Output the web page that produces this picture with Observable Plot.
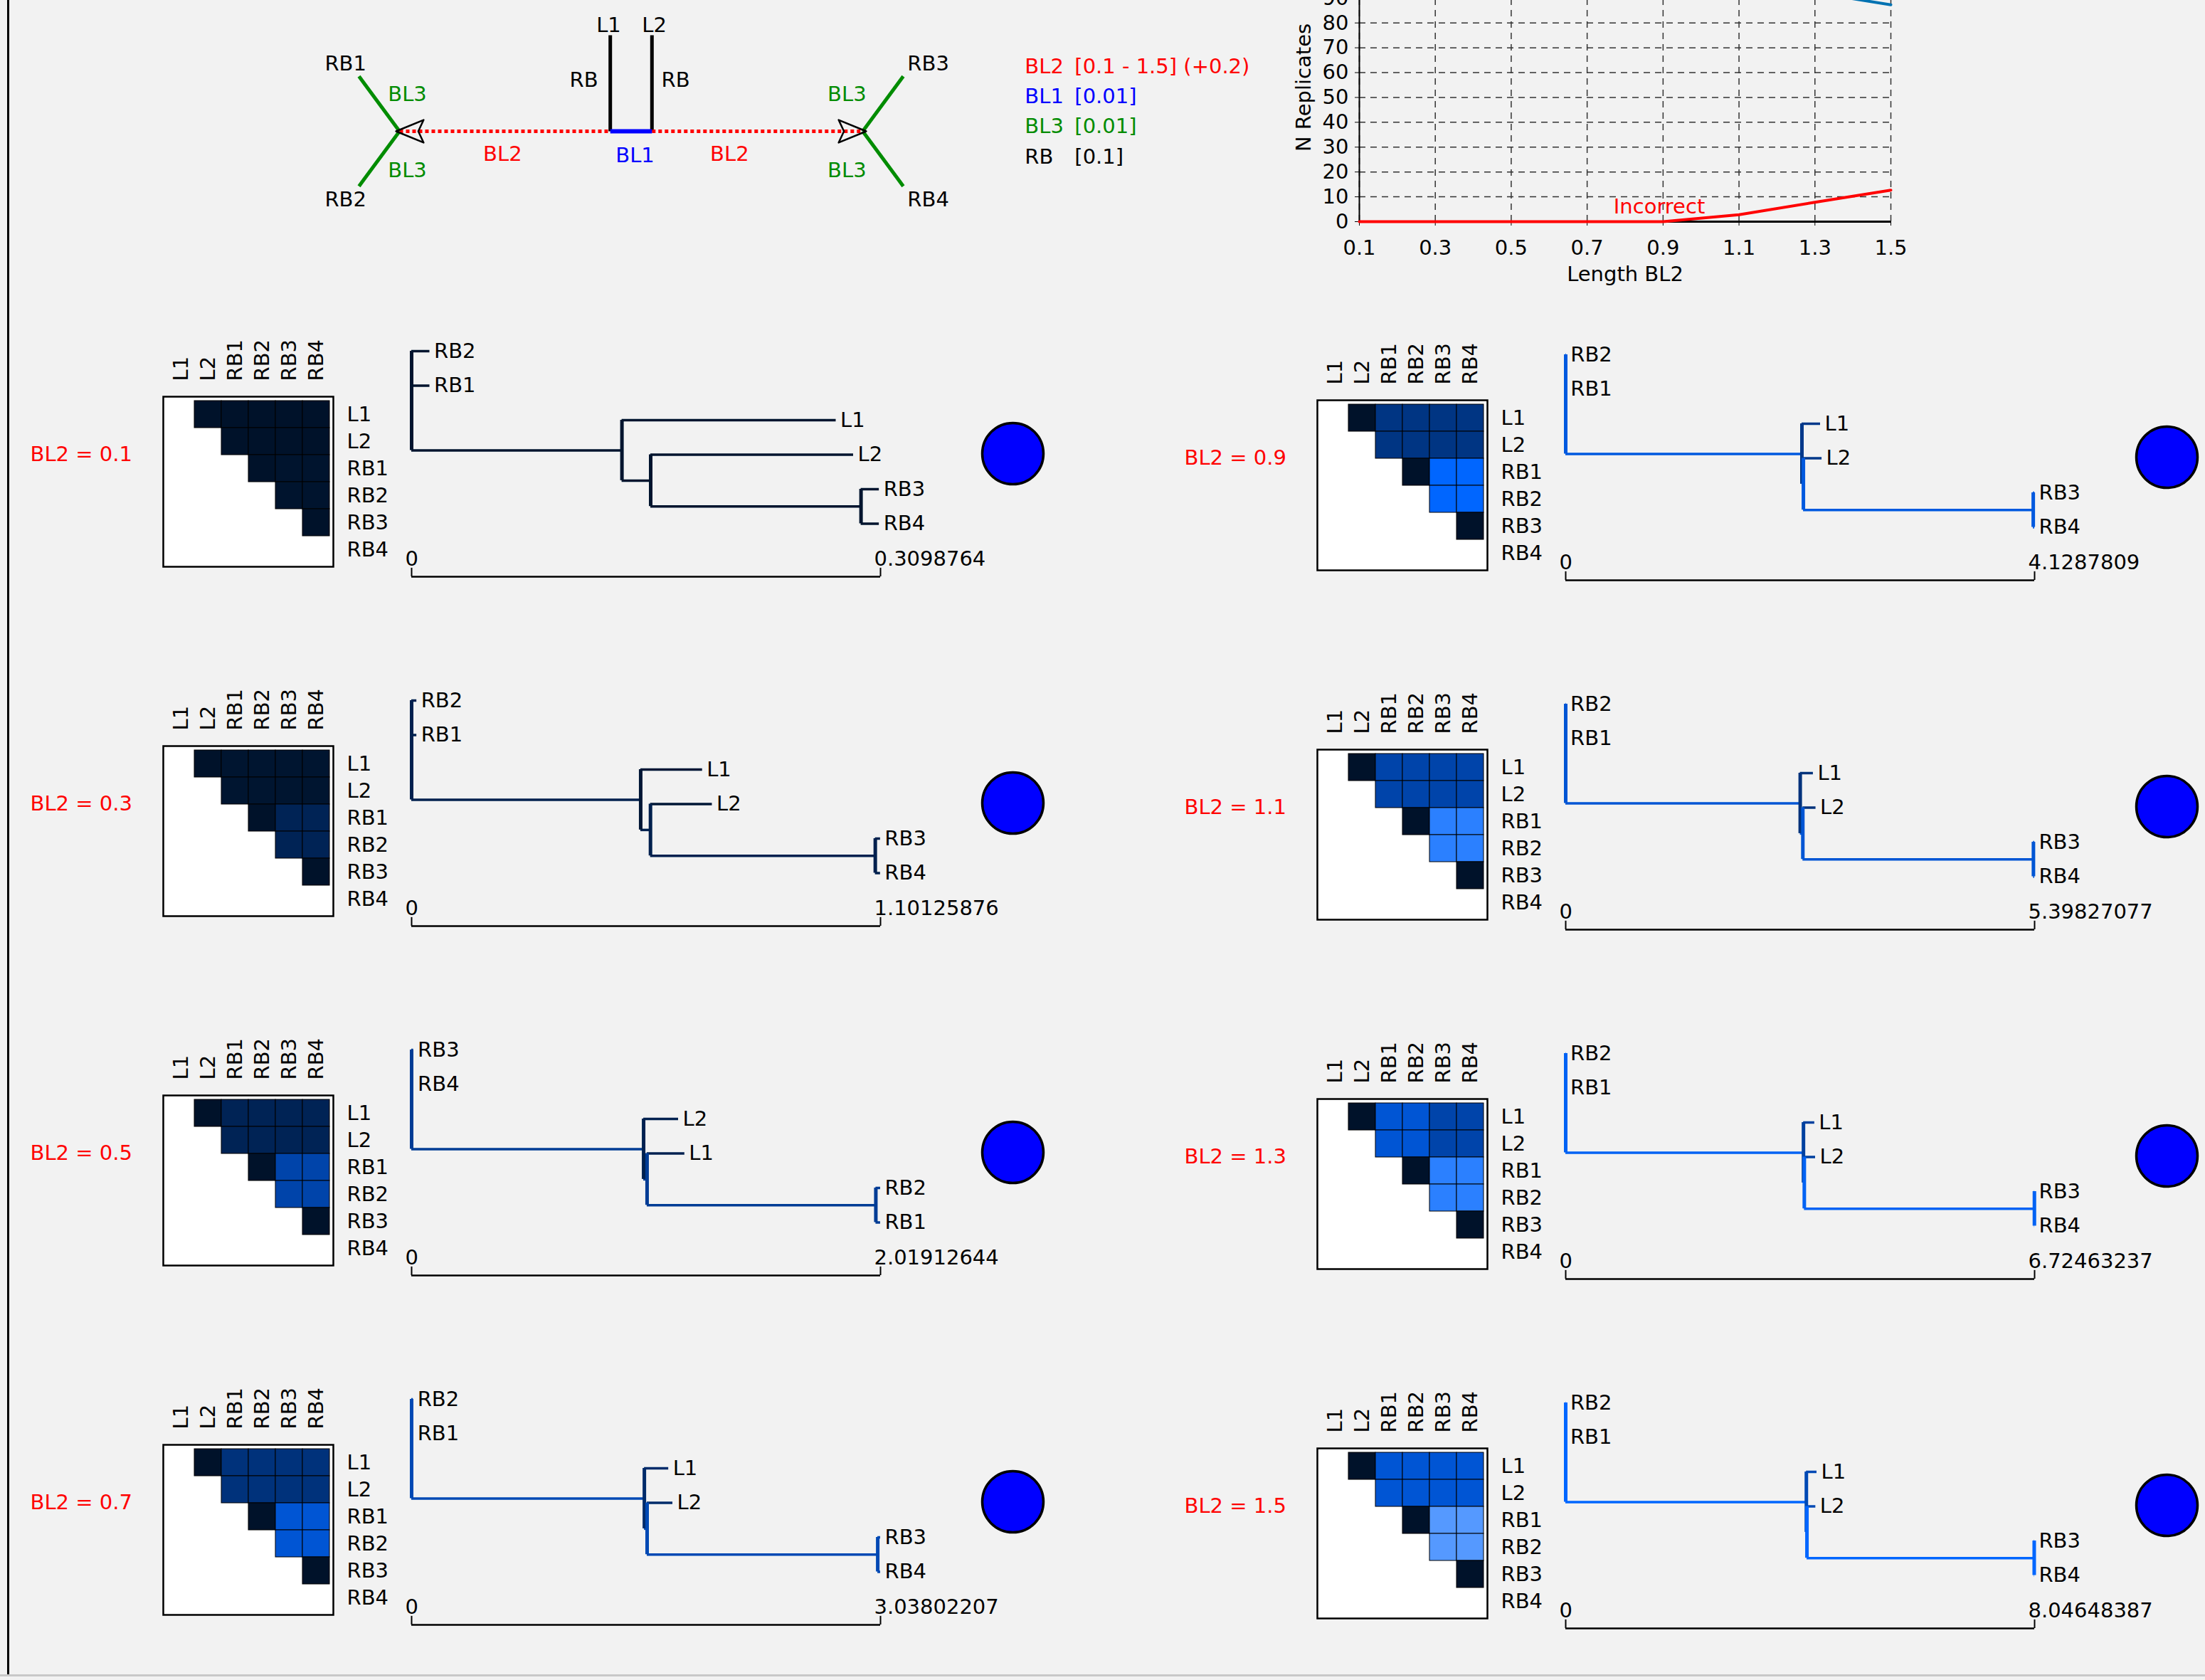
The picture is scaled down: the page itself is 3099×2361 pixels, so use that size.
<!DOCTYPE html>
<html><head><meta charset="utf-8">
<script src="https://cdn.jsdelivr.net/npm/d3@7"></script>
<script src="https://cdn.jsdelivr.net/npm/@observablehq/plot@0.6"></script>
<style>
html,body{margin:0;padding:0;background:#f2f2f2;}
#fig{position:relative;width:3099px;height:2361px;overflow:hidden;background:#f2f2f2;font-family:"DejaVu Sans";}
#fig svg{position:absolute;}
#leftBorder{position:absolute;left:10px;top:0;width:3px;height:2354px;background:#000;}
#bottomBorder{position:absolute;left:0;top:2353px;width:3099px;height:3px;background:#c8c8c8;}
</style></head>
<body><div id="fig"><div id="leftBorder"></div><div id="bottomBorder"></div></div>
<script>
// ---------- line chart data ----------
const bl2Lengths = [0.1, 0.3, 0.5, 0.7, 0.9, 1.1, 1.3, 1.5];
const nIncorrect = [0, 0, 0, 0, 0, 2.8, 7.8, 12.7];
const nCorrect = [100, 100, 100, 100, 100, 97.2, 92.2, 87.3];
const xTicks = [0.1, 0.3, 0.5, 0.7, 0.9, 1.1, 1.3, 1.5];
const yTicks = [0, 10, 20, 30, 40, 50, 60, 70, 80, 90];

// ---------- schematic diagram data ----------
const diagBranches = [
  {name: "RB", x1: -0.9, y1: 0, x2: -0.9, y2: 4.15},
  {name: "RB", x1: 0.9, y1: 0, x2: 0.9, y2: 4.15},
  {name: "BL2", x1: -10, y1: 0, x2: -0.9, y2: 0},
  {name: "BL2", x1: 0.9, y1: 0, x2: 10, y2: 0},
  {name: "BL1", x1: -0.9, y1: 0, x2: 0.9, y2: 0},
  {name: "BL3", x1: -10, y1: 0, x2: -11.75, y2: 2.37},
  {name: "BL3", x1: -10, y1: 0, x2: -11.75, y2: -2.37},
  {name: "BL3", x1: 10, y1: 0, x2: 11.75, y2: 2.37},
  {name: "BL3", x1: 10, y1: 0, x2: 11.75, y2: -2.37}
];
const diagArrows = [
  {id: "left", x: -10.15, y: 0}, {id: "left", x: -8.96, y: 0.49}, {id: "left", x: -9.19, y: 0},
  {id: "left", x: -8.96, y: -0.49}, {id: "left", x: -10.15, y: 0},
  {id: "right", x: 10.15, y: 0}, {id: "right", x: 8.96, y: 0.49}, {id: "right", x: 9.19, y: 0},
  {id: "right", x: 8.96, y: -0.49}, {id: "right", x: 10.15, y: 0}
];
const diagLabels = [
  {name: "RB", text: "L1", x: -0.97, y: 4.58}, {name: "RB", text: "L2", x: 1.0, y: 4.58},
  {name: "RB", text: "RB", x: -2.04, y: 2.21}, {name: "RB", text: "RB", x: 1.92, y: 2.21},
  {name: "RB", text: "RB1", x: -12.33, y: 2.92}, {name: "RB", text: "RB2", x: -12.33, y: -2.95},
  {name: "RB", text: "RB3", x: 12.83, y: 2.92}, {name: "RB", text: "RB4", x: 12.83, y: -2.95},
  {name: "BL3", text: "BL3", x: -9.66, y: 1.6}, {name: "BL3", text: "BL3", x: -9.66, y: -1.69},
  {name: "BL3", text: "BL3", x: 9.32, y: 1.6}, {name: "BL3", text: "BL3", x: 9.32, y: -1.69},
  {name: "BL2", text: "BL2", x: -5.55, y: -0.98}, {name: "BL2", text: "BL2", x: 4.25, y: -0.98},
  {name: "BL1", text: "BL1", x: 0.17, y: -1.04}
];
const legendNames = ["BL2", "BL1", "BL3", "RB"];
const legendValues = ["[0.1 - 1.5] (+0.2)", "[0.01]", "[0.01]", "[0.1]"];
const branchColors = {BL2: "#ff0000", BL1: "#0000ff", BL3: "#008c00", RB: "#000000"};

// ---------- panel data ----------
const panelLabels = ["BL2 = 0.1", "BL2 = 0.3", "BL2 = 0.5", "BL2 = 0.7", "BL2 = 0.9", "BL2 = 1.1", "BL2 = 1.3", "BL2 = 1.5"];
const taxa = ["L1", "L2", "RB1", "RB2", "RB3", "RB4"];
const cellSame = [0, 0, 0, 0, 0, 0, 0, 0];
const cellLvsRB12 = [0, 0.03, 0.2, 0.38, 0.42, 0.6, 0.8, 0.8];
const cellLvsRB34 = [0, 0.03, 0.2, 0.38, 0.42, 0.6, 0.6, 0.8];
const cellRBvsRB = [0.02, 0.2, 0.6, 0.8, 1.0, 1.25, 1.25, 1.5];
const scaleBarLabels = ["0.3098764", "1.10125876", "2.01912644", "3.03802207", "4.1287809", "5.39827077", "6.72463237", "8.04648387"];
const leafOrders = [
  ["RB2", "RB1", "L1", "L2", "RB3", "RB4"],
  ["RB2", "RB1", "L1", "L2", "RB3", "RB4"],
  ["RB3", "RB4", "L2", "L1", "RB2", "RB1"],
  ["RB2", "RB1", "L1", "L2", "RB3", "RB4"],
  ["RB2", "RB1", "L1", "L2", "RB3", "RB4"],
  ["RB2", "RB1", "L1", "L2", "RB3", "RB4"],
  ["RB2", "RB1", "L1", "L2", "RB3", "RB4"],
  ["RB2", "RB1", "L1", "L2", "RB3", "RB4"]
];
const brOuter = [0.012, 0.012, 0.008, 0.01, 0.005, 0.005, 0.005, 0.005];
const brA = [0.139, 0.538, 0.999, 1.508, 2.08, 2.70, 3.41, 4.13];
const brY1 = [0.1415, 0.145, 0.150, 0.157, 0.163, 0.15, 0.16, 0.18];
const brB = [0.019, 0.023, 0.015, 0.018, 0.013, 0.03, 0.012, 0.01];
const brY2 = [0.134, 0.145, 0.162, 0.166, 0.163, 0.15, 0.16, 0.15];
const brC = [0.139, 0.528, 0.985, 1.494, 2.024, 2.655, 3.30, 3.90];
const brZ = [0.012, 0.012, 0.02, 0.018, 0.012, 0.013, 0.003, 0.005];
const treeMainVal = [0.02, 0.17, 0.5, 0.65, 0.85, 0.8, 0.95, 1.0];
const treeLeafVal = [0.02, 0.05, 0.18, 0.3, 0.45, 0.38, 0.55, 0.65];

// ---------- shared settings ----------
const fig = document.getElementById("fig");
const baseStyle = {background: "transparent", fontFamily: "DejaVu Sans", fontSize: "29px", overflow: "visible"};
const colorScale = {type: "linear", domain: [0, 1, 2], range: ["#00122a", "#0066ff", "#aaccff"], interpolate: "rgb", clamp: true};

function place(svg, left, top) {
  svg.style.position = "absolute";
  svg.style.left = left + "px";
  svg.style.top = top + "px";
  fig.appendChild(svg);
}

// ---------- line chart ----------
const lineData = bl2Lengths.map((x, i) => ({x, incorrect: nIncorrect[i], correct: nCorrect[i]}));
const gridStyle = {stroke: "#333", strokeOpacity: 1, strokeWidth: 1.5, strokeDasharray: "9,7"};
place(Plot.plot({
  width: 1100, height: 560, marginLeft: 210, marginRight: 143, marginTop: 34, marginBottom: 149,
  x: {domain: [0.1, 1.5]}, y: {domain: [0, 108]},
  style: baseStyle,
  marks: [
    Plot.gridX(xTicks, gridStyle),
    Plot.gridY(yTicks.filter(d => d > 0), gridStyle),
    Plot.ruleX([0.1], {stroke: "black", strokeWidth: 2}),
    Plot.ruleY([0], {stroke: "black", strokeWidth: 3}),
    Plot.axisX(xTicks, {tickSize: 6, tickPadding: 20, tickFormat: d => d.toFixed(1), label: null}),
    Plot.axisY(yTicks, {tickSize: 6, tickPadding: 9, label: null}),
    Plot.line(lineData, {x: "x", y: "correct", stroke: "#0072b2", strokeWidth: 4}),
    Plot.line(lineData, {x: "x", y: "incorrect", stroke: "#ff0000", strokeWidth: 4}),
    Plot.text(["Incorrect"], {x: 0.89, y: 6, fill: "#ff0000"}),
    Plot.text(["Length BL2"], {frameAnchor: "bottom", dy: 74, lineAnchor: "middle", textAnchor: "middle"}),
    Plot.text(["N Replicates"], {frameAnchor: "left", dx: -78, rotate: -90, textAnchor: "middle", lineAnchor: "middle"})
  ]
}), 1700, -100);

// ---------- schematic diagram ----------
const diagMarks = [];
const branchWidth = {RB: 5, BL1: 6, BL2: 5, BL3: 5};
for (const name of ["RB", "BL3", "BL2", "BL1"]) {
  diagMarks.push(Plot.link(diagBranches.filter(d => d.name === name), {
    x1: "x1", y1: "y1", x2: "x2", y2: "y2",
    stroke: branchColors[name], strokeWidth: branchWidth[name],
    strokeDasharray: name === "BL2" ? "5,4" : null
  }));
}
diagMarks.push(Plot.line(diagArrows, {x: "x", y: "y", z: "id", stroke: "black", strokeWidth: 2.5}));
for (const name of ["RB", "BL3", "BL2", "BL1"]) {
  diagMarks.push(Plot.text(diagLabels.filter(d => d.name === name), {x: "x", y: "y", text: "text", fill: branchColors[name]}));
}
legendNames.forEach((name, i) => {
  diagMarks.push(Plot.text([name], {x: 17.0, y: 2.8 - i * 1.3, textAnchor: "start", fill: branchColors[name]}));
  diagMarks.push(Plot.text([legendValues[i]], {x: 19.15, y: 2.8 - i * 1.3, textAnchor: "start", fill: branchColors[name]}));
});
place(Plot.plot({
  width: 1400, height: 320,
  x: {domain: [-10, 10], range: [161, 812], axis: null},
  y: {domain: [-3, 4], range: [281.65, 53.8], axis: null},
  style: baseStyle,
  marks: diagMarks
}), 400, 0);

// ---------- panels ----------
function pairValue(p, a, b) {
  const grp = t => (t === "L1" || t === "L2") ? "L" : (t === "RB1" || t === "RB2") ? "R12" : "R34";
  const ga = grp(a), gb = grp(b);
  if (ga === gb) return cellSame[p];
  if (ga === "L" && gb === "R12") return cellLvsRB12[p];
  if (ga === "L" && gb === "R34") return cellLvsRB34[p];
  return cellRBvsRB[p];
}

function layoutTree(p) {
  const order = leafOrders[p];
  const xA = brA[p], xB = xA + brB[p], xC = xB + brC[p];
  const yC = 4.5, yB = (3 + yC) / 2, yA = (2 + yB) / 2;
  const main = treeMainVal[p], leaf = treeLeafVal[p];
  const tips = [brOuter[p], brOuter[p], xA + brY1[p], xB + brY2[p], xC + brZ[p], xC + brZ[p]];
  const parents = [0, 0, xA, xB, xC, xC];
  const vals = [main, main, leaf, leaf, main, main];
  const hs = order.map((name, i) => ({y: i, x1: parents[i], x2: tips[i], v: vals[i]}));
  hs.push({y: yA, x1: 0, x2: xA, v: main}, {y: yB, x1: xA, x2: xB, v: main}, {y: yC, x1: xB, x2: xC, v: main});
  const vs = [
    {x: 0, y1: 0, y2: yA, v: main},
    {x: xA, y1: 2, y2: yB, v: leaf},
    {x: xB, y1: 3, y2: yC, v: main},
    {x: xC, y1: 4, y2: 5, v: main}
  ];
  const leaves = order.map((name, i) => ({name, x: tips[i], y: i}));
  return {hs, vs, leaves};
}

const barY = 6.536, barLabelY = 6.02;

panelLabels.forEach((label, p) => {
  const col = p < 4 ? 0 : 1, row = p % 4;
  const ox = col * 1622, oy = row * 491 + col * 5;

  const cells = [];
  for (let i = 0; i < 6; i++) for (let j = i + 1; j < 6; j++)
    cells.push({row: taxa[i], col: taxa[j], v: pairValue(p, taxa[i], taxa[j])});

  place(Plot.plot({
    width: 600, height: 400, marginLeft: 229, marginRight: 132, marginTop: 117, marginBottom: 44,
    x: {type: "band", domain: taxa, padding: 0, inset: 3, axis: null},
    y: {type: "band", domain: taxa, padding: 0, inset: 4},
    color: colorScale,
    style: baseStyle,
    marks: [
      Plot.frame({fill: "white", stroke: "black", strokeWidth: 2.5}),
      Plot.cell(cells, {x: "col", y: "row", fill: "v", stroke: "black", strokeWidth: 1, inset: 0}),
      Plot.text(taxa, {x: d => d, frameAnchor: "top", rotate: -90, textAnchor: "start", lineAnchor: "middle", dy: -22}),
      Plot.axisY({anchor: "right", tickSize: 0, tickPadding: 19, label: null}),
      Plot.text([label], {frameAnchor: "top-left", dx: -187, dy: 81, textAnchor: "start", lineAnchor: "middle", fill: "#ff0000"})
    ]
  }), ox, oy + 440);

  const T = layoutTree(p);
  const smax = +scaleBarLabels[p];
  place(Plot.plot({
    width: 1450, height: 400, marginLeft: 578, marginRight: 213, marginTop: 53, marginBottom: 104.5,
    x: {domain: [0, smax], axis: null},
    y: {domain: [0, 5], reverse: true, axis: null},
    color: colorScale,
    style: baseStyle,
    marks: [
      Plot.ruleY(T.hs, {y: "y", x1: "x1", x2: "x2", stroke: "v", strokeWidth: 3.5}),
      Plot.ruleX(T.vs, {x: "x", y1: "y1", y2: "y2", stroke: "v", strokeWidth: 5}),
      Plot.text(T.leaves, {x: "x", y: "y", text: "name", dx: 6, textAnchor: "start"}),
      Plot.ruleY([barY], {x1: 0, x2: smax, stroke: "black", strokeWidth: 2.5}),
      Plot.ruleX([0, smax], {y1: barY, y2: barY - 0.25, stroke: "black", strokeWidth: 2}),
      Plot.text([0, smax], {x: d => d, y: barLabelY, text: (d, i) => i ? scaleBarLabels[p] : "0", dx: -9, textAnchor: "start"})
    ]
  }), ox, oy + 440);

  place(Plot.plot({
    width: 120, height: 120, margin: 0,
    style: baseStyle,
    marks: [Plot.dot([0], {frameAnchor: "middle", r: 43, fill: "#0000ff", stroke: "black", strokeWidth: 3.5})]
  }), ox + 1423 - 60, oy + 637 - 60);
});
</script>
</body></html>
